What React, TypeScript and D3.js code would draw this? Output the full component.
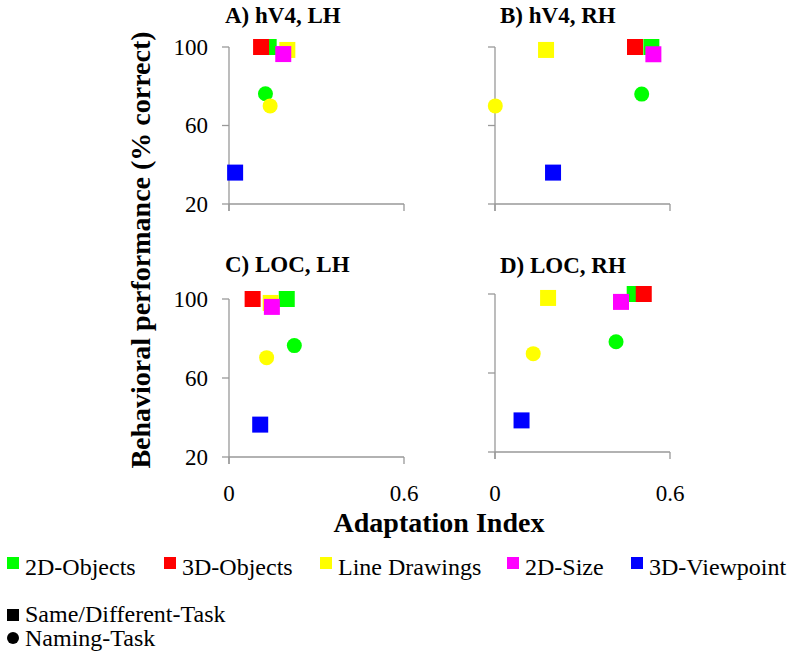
import React from "react";
import * as d3 from "d3";

// ---- data ----
const categories = ["2D-Objects", "3D-Objects", "Line Drawings", "2D-Size", "3D-Viewpoint"];
const categoryColors = ["#00ff00", "#ff0000", "#ffff00", "#ff00ff", "#0000ff"];
const namingCategories = ["2D-Objects", "Line Drawings"];
const panelTitles = ["A) hV4, LH", "B) hV4, RH", "C) LOC, LH", "D) LOC, RH"];
const yTicks = [20, 60, 100];
const xTicks = [0, 0.6];
const xTickLabels = ["0", "0.6"];

// Same/Different task (squares), order = categories
const sameDiffX_A = [0.136, 0.110, 0.200, 0.186, 0.021];
const sameDiffY_A = [100, 100, 98.5, 96.4, 36];
const sameDiffX_B = [0.536, 0.480, 0.175, 0.543, 0.199];
const sameDiffY_B = [100, 100, 98.5, 96.3, 36];
const sameDiffX_C = [0.198, 0.081, 0.143, 0.147, 0.107];
const sameDiffY_C = [100, 100, 98, 96, 36.4];
const sameDiffX_D = [0.479, 0.510, 0.182, 0.432, 0.091];
const sameDiffY_D = [100, 100, 98, 96, 36];

// Naming task (circles), order = namingCategories
const namingX_A = [0.125, 0.141];
const namingY_A = [76.2, 70];
const namingX_B = [0.503, 0.001];
const namingY_B = [76, 70];
const namingX_C = [0.224, 0.129];
const namingY_C = [76.4, 70.3];
const namingX_D = [0.415, 0.131];
const namingY_D = [75.8, 69.8];

const sameDiffXs = [sameDiffX_A, sameDiffX_B, sameDiffX_C, sameDiffX_D];
const sameDiffYs = [sameDiffY_A, sameDiffY_B, sameDiffY_C, sameDiffY_D];
const namingXs = [namingX_A, namingX_B, namingX_C, namingX_D];
const namingYs = [namingY_A, namingY_B, namingY_C, namingY_D];

// ---- layout ----
const panelBoxes = [
  { x0: 229, x1: 404, top: 47, bot: 204, tx: 225, ty: 23, yLabels: true, xLabels: false },
  { x0: 495, x1: 670, top: 47, bot: 204, tx: 500, ty: 23, yLabels: false, xLabels: false },
  { x0: 229, x1: 404, top: 299, bot: 457, tx: 225, ty: 272, yLabels: true, xLabels: true },
  { x0: 495, x1: 670, top: 294, bot: 452, tx: 500, ty: 273, yLabels: false, xLabels: true },
];
const legendSwatchX = [7, 164, 320, 507, 631];
const SQ = 16;
const CR = 7.5;

function T(props: any) {
  const { size, bold, children, ...rest } = props;
  return (
    <text
      {...rest}
      fontFamily="Liberation Serif"
      fontSize={size}
      fontWeight={bold ? "bold" : "normal"}
      style={{ fontFamily: "Liberation Serif" }}
      fill="#000"
    >
      {children}
    </text>
  );
}

function Panel({ i }: { i: number }) {
  const b = panelBoxes[i];
  const x = d3.scaleLinear().domain([0, 0.6]).range([b.x0, b.x1]);
  const y = d3.scaleLinear().domain([20, 100]).range([b.bot, b.top]);
  const axisColor = "#999";
  const xs = sameDiffXs[i];
  const ys = sameDiffYs[i];
  const nx = namingXs[i];
  const ny = namingYs[i];
  return (
    <g>
      <T x={b.tx} y={b.ty} size={23} bold>
        {panelTitles[i]}
      </T>
      <line x1={x(0)} x2={x(0)} y1={y(100)} y2={y(20) + 7} stroke={axisColor} strokeWidth={1.3} />
      <line x1={x(0)} x2={x(0.6)} y1={y(20)} y2={y(20)} stroke={axisColor} strokeWidth={1.3} />
      {yTicks.map((t) => (
        <g key={"yt" + t}>
          <line x1={x(0) - 7} x2={x(0)} y1={y(t)} y2={y(t)} stroke={axisColor} strokeWidth={1.3} />
          {b.yLabels && (
            <T x={208} y={y(t)} dy="0.34em" textAnchor="end" size={23}>
              {String(t)}
            </T>
          )}
        </g>
      ))}
      {xTicks.map((t, k) => (
        <g key={"xt" + t}>
          <line x1={x(t)} x2={x(t)} y1={y(20)} y2={y(20) + 7} stroke={axisColor} strokeWidth={1.3} />
          {b.xLabels && (
            <T x={x(t)} y={501} textAnchor="middle" size={23}>
              {xTickLabels[k]}
            </T>
          )}
        </g>
      ))}
      {namingCategories.map((c, k) => (
        <circle key={"c" + c} cx={x(nx[k])} cy={y(ny[k])} r={CR} fill={categoryColors[categories.indexOf(c)]} />
      ))}
      {categories.map((c, k) => (
        <rect
          key={"s" + c}
          x={x(xs[k]) - SQ / 2}
          y={y(ys[k]) - SQ / 2}
          width={SQ}
          height={SQ}
          fill={categoryColors[k]}
        />
      ))}
    </g>
  );
}

export default function App() {
  return (
    <svg
      width={800}
      height={664}
      fontFamily="Liberation Serif"
      style={{ position: "absolute", left: 0, top: 0, background: "#fff", fontFamily: "Liberation Serif" }}
    >
      <style>{`text { font-family: "Liberation Serif" !important; }`}</style>
      <rect x={0} y={0} width={800} height={664} fill="#fff" />
      {panelTitles.map((_, i) => (
        <Panel key={i} i={i} />
      ))}
      <T transform="translate(150,250) rotate(-90)" textAnchor="middle" size={28} bold>
        Behavioral performance (% correct)
      </T>
      <T x={439} y={532} textAnchor="middle" size={28} bold>
        Adaptation Index
      </T>
      {categories.map((c, k) => (
        <g key={"lg" + c}>
          <rect x={legendSwatchX[k]} y={557} width={12} height={12} fill={categoryColors[k]} />
          <T x={legendSwatchX[k] + 18} y={575} size={24}>
            {c}
          </T>
        </g>
      ))}
      <rect x={7} y={609} width={12} height={12} fill="#000" />
      <T x={25} y={622} size={24}>
        Same/Different-Task
      </T>
      <circle cx={13} cy={638} r={6} fill="#000" />
      <T x={25} y={646} size={24}>
        Naming-Task
      </T>
    </svg>
  );
}
